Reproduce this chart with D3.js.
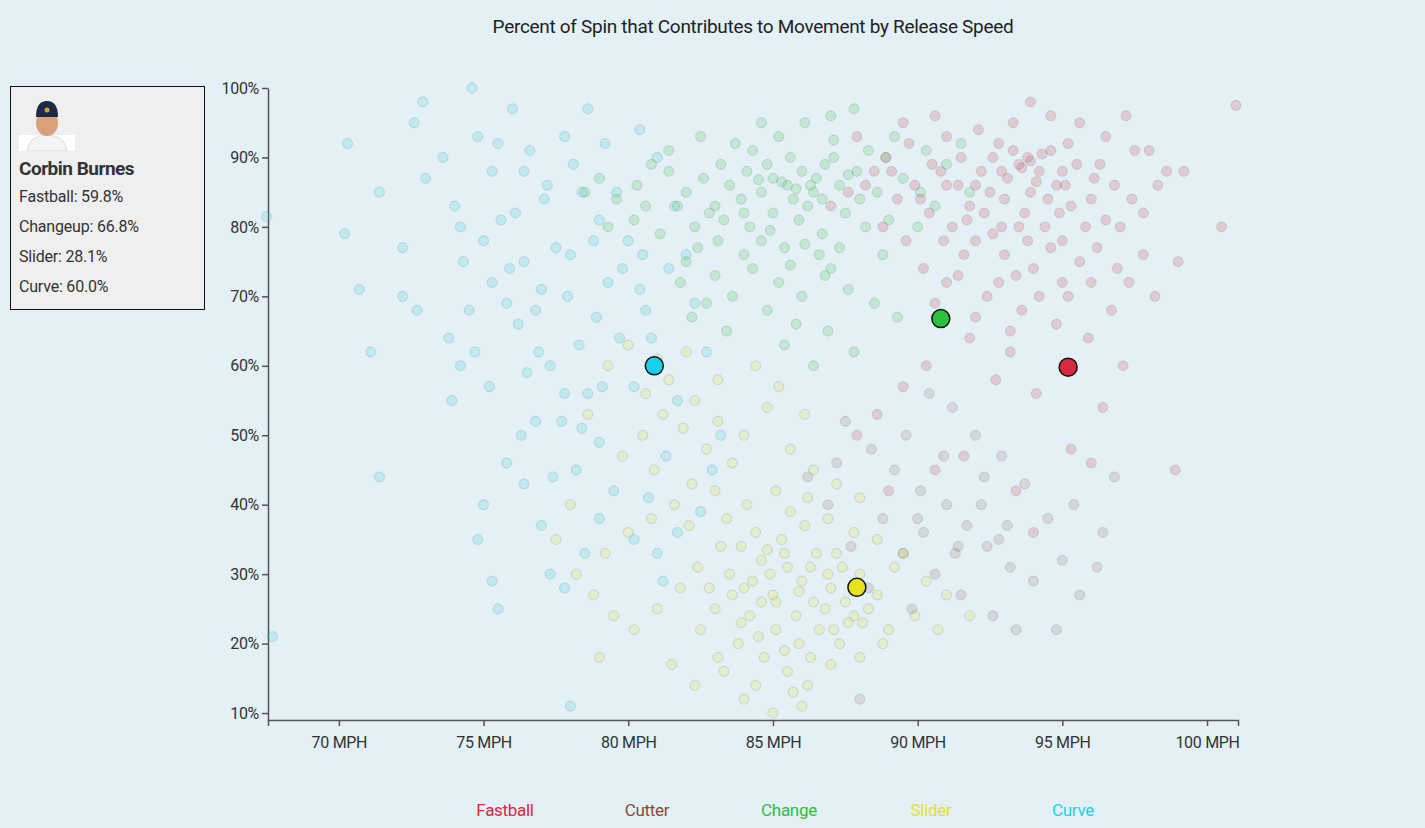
<!DOCTYPE html>
<html lang="en">
    <head>
        <meta charset="utf-8" />
        <title>Spin Movement</title>
        <script src="https://d3js.org/d3.v7.min.js"></script>
        <style>
            html, body { margin:0; padding:0; overflow:hidden; background-color: #e3f0f5; font-family: Roboto, sans-serif; }
            #card { position:absolute; left:10px; top:86px; width:195px; height:224px; background:#efefef; border:1px solid #111; box-sizing:border-box; padding:8px; color:#333; z-index:2; }
            #card .name { font-weight:bold; font-size:19px; margin-top:2px; margin-bottom:2px; letter-spacing:-0.5px; }
            #card .row { font-size:16px; line-height:30px; letter-spacing:-0.2px; }
        </style>
    </head>
    <body>
        <svg id="svg" width="1425" height="828" style="position:absolute;top:0;left:0"></svg>
        <div id="card">
            <svg width="60" height="56">
                <rect x="0" y="40" width="56" height="16" fill="#fff"/>
                <path d="M8 56 Q10 40 28 40 Q46 40 48 56 Z" fill="#f4f4f4" stroke="#ddd"/>
                <ellipse cx="28" cy="28" rx="11" ry="13" fill="#d9a07a"/>
                <path d="M17 22 Q17 6 28 6 Q39 6 39 22 Z" fill="#1c2a48"/>
                <circle cx="28" cy="15" r="2.5" fill="#c9a23a"/>
            </svg>
            <div class="name">Corbin Burnes</div>
            <div class="row">Fastball: 59.8%</div>
            <div class="row">Changeup: 66.8%</div>
            <div class="row">Slider: 28.1%</div>
            <div class="row">Curve: 60.0%</div>
        </div>
        <script>
            let svg = d3.select("#svg");

            // pitch colours
            let colors = {
                Fastball: "#d9283f",
                Cutter: "#8b4a3a",
                Change: "#2cc13c",
                Slider: "#e6e31e",
                Curve: "#1ad0e8"
            };

            // mph,percent pairs
            let raw = {
                Fastball: "93.5,89 93.8,90 94.2,88 93.1,87 92.5,85 95.1,86 96.0,84 94.6,91 92.8,92 91.5,90 90.8,88 89.9,86 89.3,84 90.4,82 91.2,80 92.0,78 93.0,76 94.0,74 95.0,72 96.2,77 97.0,80 97.8,82 98.3,86 98.6,88 97.5,91 96.5,93 95.6,95 94.6,96 93.3,95 92.1,94 91.0,93 89.7,92 88.9,90 88.2,86 88.8,80 89.6,78 90.2,74 91.0,72 92.4,70 93.6,68 94.8,66 95.9,64 96.7,68 97.3,72 98.2,70 99.0,75 100.5,80 101,97.5 98.9,45 96.4,54 95.3,48 94.1,56 93.2,62 92.7,58 91.8,64 90.3,60 89.5,57 88.6,53 87.9,50 89.0,42 90.6,45 91.6,47 93.4,42 94.0,36 96.0,46 97.1,60 95.6,75 94.4,80 93.7,82 93.9,85 94.9,82 95.5,89 96.8,86 96.3,89 92.2,88 91.8,83 91.0,86 90.1,84 89.1,88 92.9,80 91.6,76 90.9,78 93.4,73 94.6,77 97.8,76 96.9,74 95.2,70 93.2,65 92.0,67 88.5,88 87.6,85 87.0,83 87.9,93 89.5,95 90.6,96 93.9,98 95.2,92 97.2,96 98.0,91 99.2,88 93.6,88.5 93.9,89.5 94.3,90.5 93.0,84 92.3,82 94.8,86 95.8,80 92.6,90 91.4,86 90.5,89 92.0,86 92.9,88 93.3,91 94.1,86.5 94.5,84 95.3,83 96.5,81 97.4,84 96.1,87 95.0,88 91.7,81 92.6,79 93.8,78 95.0,78 96.0,72 94.2,70 91.4,73 90.6,69 92.8,72 93.5,80",
                Cutter: "87.5,52 88.4,48 89.2,45 90.1,42 91.0,40 91.7,37 92.4,34 93.2,31 94.0,29 95.0,32 95.6,27 94.5,38 93.7,43 92.9,47 92.0,50 91.2,54 90.4,56 89.6,50 88.8,38 89.5,33 90.6,30 91.5,27 92.6,24 93.4,22 94.8,22 96.2,31 96.4,36 89.8,25 88.3,28 87.7,34 86.9,40 86.2,44 88.0,12 90.9,47 92.3,44 93.1,37 95.4,40 96.8,44 91.4,34 90.2,36 87.2,46 92.2,40 92.8,35 91.3,33 90.0,38",
                Change: "78.5,85 79.0,87 79.6,84 80.3,86 80.8,89 81.4,88 82.0,85 82.6,87 83.0,83 83.5,86 84.1,88 84.6,85 85.0,87 85.5,86 86.0,88 86.4,85 86.8,89 87.3,86 87.9,88 88.3,91 88.9,90 89.5,87 90.1,85 90.6,83 91.0,89 91.5,92 85.2,93 84.6,95 86.1,95 87.0,96 87.8,97 83.7,92 82.5,93 81.4,91 80.2,81 81.1,79 82.3,80 83.1,78 84.2,80 85.0,82 85.9,81 86.7,79 87.5,82 88.2,80 89.0,81 90.0,80 82.0,75 83.0,73 84.3,74 85.2,72 86.0,70 86.8,73 87.6,71 88.5,69 89.3,67 84.8,68 83.6,70 82.7,69 81.8,72 85.8,66 86.9,65 87.8,62 86.4,60 85.4,63 84.6,78 83.9,84 85.7,84 86.3,86 84.8,89 83.2,89 87.1,90 88.0,84 82.8,82 81.7,83 80.6,83 79.3,80 91.8,85 90.3,91 89.2,93 84.0,82 85.4,77 86.6,76 88.8,76 87.0,74 83.4,65 82.2,67 86.2,83 85.6,90 84.3,91 85.3,86.5 86.5,87 87.1,92.5 84.5,86.8 85.8,85.5 86.7,84 87.6,87.5 88.6,85 83.3,81 84.9,79.5 86.1,77.5 82.4,77 84.0,76 85.6,74.5 87.3,77",
                Slider: "83.5,30 84.0,28 84.6,32 85.0,27 85.5,31 86.0,29 86.5,33 87.0,28 87.5,26 88.0,30 88.6,27 89.2,31 84.2,24 85.1,22 85.8,24 86.6,22 87.3,20 88.1,23 88.8,20 83.0,25 82.5,22 83.8,20 84.7,18 85.5,16 86.2,14 87.0,17 84.0,12 85.0,10 86.0,11 85.3,35 86.1,37 84.4,36 83.2,34 82.4,31 81.8,28 81.0,25 80.2,22 79.5,24 78.8,27 79.2,33 80.0,36 80.8,38 81.6,40 82.2,43 83.0,42 84.1,40 85.6,39 86.9,38 87.8,36 88.6,35 89.5,33 90.3,29 91.0,27 91.8,24 90.7,22 89.9,24 83.6,46 82.7,48 81.9,51 81.2,53 80.5,50 79.8,47 80.6,56 81.4,58 82.3,55 83.1,52 84.0,50 84.8,54 85.6,48 86.4,45 87.2,43 78.6,53 79.3,60 80.0,63 81.0,61 82.0,62 83.1,58 84.4,60 85.2,57 86.1,53 88.0,41 87.4,31 86.8,25 85.9,20 84.6,26 83.9,34 84.9,30 86.3,31 87.8,24 89.0,22 81.5,17 82.3,14 83.3,16 84.4,14 85.7,13 88.0,18 79.0,18 78.2,30 77.5,35 78.0,40 80.9,45 82.1,37 83.4,38 85.1,42 86.2,41 84.3,29 85.4,33 86.9,30 87.6,23 83.9,23 85.1,26 84.8,33.5 85.9,27.5 86.4,26 87.2,33 83.6,27 84.5,21 85.4,19 86.3,18 87.1,22 88.3,25 82.8,28 83.1,18",
                Curve: "67.5,81.5 67.7,21 70.3,92 70.2,79 70.7,71 71.1,62 71.4,44 71.4,85 72.2,77 72.7,68 73.0,87 72.6,95 72.9,98 73.6,90 74.0,83 74.3,75 74.5,68 74.2,60 73.9,55 74.6,100 74.8,93 75.3,88 75.6,81 75.9,74 76.2,66 76.5,59 76.8,52 75.8,46 75.0,40 74.8,35 75.3,29 75.5,25 76.4,43 77.0,37 77.3,30 77.8,28 78.0,11 76.0,97 76.6,91 77.1,84 77.5,77 77.9,70 78.3,63 78.6,56 79.0,49 78.2,45 77.7,52 77.3,60 76.8,68 76.4,75 76.1,82 75.5,92 77.8,93 78.6,97 79.2,92 79.6,85 80.0,78 80.4,71 80.8,64 80.9,60 80.2,57 79.7,64 79.3,72 78.8,78 78.4,85 78.1,89 80.4,94 81.0,90 81.6,83 82.0,76 82.3,69 82.7,62 81.7,55 81.3,47 80.7,41 80.2,35 81.0,33 81.2,29 81.7,36 82.5,39 82.9,45 83.2,50 79.5,42 79.0,38 78.5,33 72.2,70 73.8,64 75.2,57 76.3,50 77.4,44 74.2,80 77.0,71 78.0,76 79.0,81 80.5,76 81.4,74 75.0,78 75.8,69 76.9,62 77.8,56 78.9,67 79.8,74 80.6,68 79.1,57 78.4,51 77.2,86 76.4,88 75.3,72 74.7,62"
            };

            let averages = [
                {type: "Fastball", mph: 95.2, pct: 59.8},
                {type: "Change", mph: 90.8, pct: 66.8},
                {type: "Slider", mph: 87.9, pct: 28.1},
                {type: "Curve", mph: 80.9, pct: 60.0}
            ];

            let data = [];
            // draw order: curve, slider, change, cutter, fastball
            ["Curve", "Slider", "Change", "Cutter", "Fastball"].forEach(t => {
                raw[t].split(" ").forEach(s => {
                    let p = s.split(",");
                    data.push({type: t, mph: +p[0], pct: +p[1]});
                });
            });

            let x = d3.scaleLinear().domain([67.55, 101.07]).range([268, 1238]);
            let y = d3.scaleLinear().domain([9, 100]).range([720, 88]);

            svg.append("text")
                .attr("x", 753).attr("y", 33)
                .attr("text-anchor", "middle")
                .attr("font-size", 19)
                .attr("letter-spacing", -0.3)
                .attr("fill", "#222")
                .text("Percent of Spin that Contributes to Movement by Release Speed");

            let xAxis = svg.append("g")
                .attr("transform", "translate(0,720)")
                .call(d3.axisBottom(x).tickValues([70, 75, 80, 85, 90, 95, 100]).tickFormat(d => d + " MPH").tickSizeOuter(6));
            let yAxis = svg.append("g")
                .attr("transform", "translate(268,0)")
                .call(d3.axisLeft(y).tickValues([10, 20, 30, 40, 50, 60, 70, 80, 90, 100]).tickFormat(d => d + "%").tickSizeOuter(0));
            [xAxis, yAxis].forEach(a => {
                a.selectAll("text").attr("font-size", 16).attr("font-family", "Roboto").attr("letter-spacing", -0.3).attr("fill", "#333");
                a.selectAll("line,path").attr("stroke", "#555").attr("stroke-width", 1.5);
            });
            xAxis.selectAll("text").attr("dy", "1.2em");

            svg.append("g")
                .selectAll("circle")
                .data(data)
                .join("circle")
                .attr("cx", d => x(d.mph))
                .attr("cy", d => y(d.pct))
                .attr("r", 5)
                .attr("fill", d => colors[d.type])
                .attr("fill-opacity", d => d.type == "Cutter" ? 0.15 : 0.18)
                .attr("stroke", "#444")
                .attr("stroke-opacity", 0.16);

            svg.append("g")
                .selectAll("circle")
                .data(averages)
                .join("circle")
                .attr("cx", d => x(d.mph))
                .attr("cy", d => y(d.pct))
                .attr("r", 9)
                .attr("fill", d => colors[d.type])
                .attr("stroke", "#111")
                .attr("stroke-width", 1.5);

            let legend = ["Fastball", "Cutter", "Change", "Slider", "Curve"];
            svg.append("g")
                .selectAll("text")
                .data(legend)
                .join("text")
                .attr("x", (d, i) => 505 + i * 142)
                .attr("y", 816)
                .attr("text-anchor", "middle")
                .attr("font-size", 17)
                .attr("letter-spacing", -0.3)
                .attr("fill", d => colors[d])
                .text(d => d);
        </script>
    </body>
</html>
